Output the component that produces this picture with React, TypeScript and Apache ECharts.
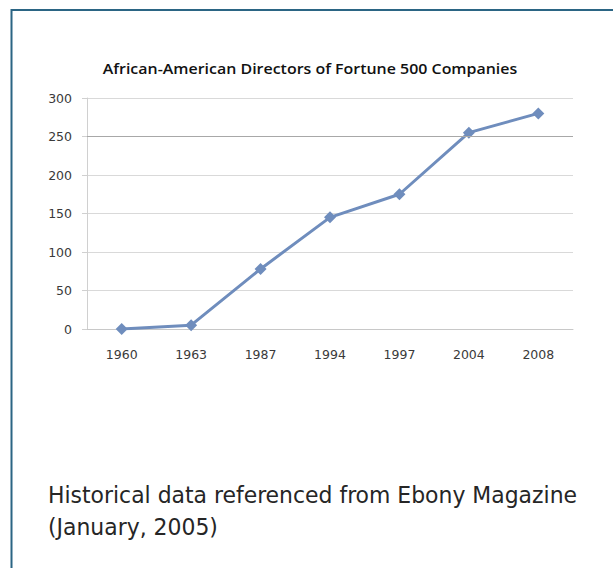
import React, { useEffect, useRef } from "react";
import * as echarts from "echarts";

const years = ["1960", "1963", "1987", "1994", "1997", "2004", "2008"];
const directors = [0, 5, 78, 145, 175, 255, 280];
const yTicks = { min: 0, max: 300, interval: 50 };
const titleText = "African-American Directors of Fortune 500 Companies";
const captionLines = ["Historical data referenced from Ebony Magazine", "(January, 2005)"];

export default function App() {
  const ref = useRef<HTMLDivElement>(null);
  useEffect(() => {
    document.body.style.margin = "0";
    const chart = echarts.init(ref.current!, null, { renderer: "svg" });
    const captionStyle = {
      fontFamily: "DejaVu Sans Condensed",
      fontSize: 23,
      fill: "#262626",
      textVerticalAlign: "middle",
    };
    chart.setOption({
      animation: false,
      backgroundColor: "#ffffff",
      grid: { left: 87, right: 40, top: 98, bottom: 239 },
      xAxis: {
        type: "category",
        data: years,
        boundaryGap: true,
        axisLine: { lineStyle: { color: "#c8c8c8" } },
        axisTick: { show: false },
        axisLabel: { fontFamily: "DejaVu Sans", fontSize: 12.5, color: "#3a3a3a", margin: 19 },
      },
      yAxis: {
        type: "value",
        min: yTicks.min,
        max: yTicks.max,
        interval: yTicks.interval,
        axisLine: { show: true, lineStyle: { color: "#d0d0d0" } },
        axisTick: { show: true, length: 5, lineStyle: { color: "#d0d0d0" } },
        splitLine: { lineStyle: { color: "#d9d9d9" } },
        axisLabel: { fontFamily: "DejaVu Sans", fontSize: 12.5, color: "#3a3a3a", margin: 15 },
      },
      series: [
        {
          type: "line",
          data: directors,
          symbol: "diamond",
          symbolSize: 12,
          lineStyle: { color: "#6f8dbd", width: 3 },
          itemStyle: { color: "#6f8dbd" },
          markLine: {
            silent: true,
            symbol: "none",
            label: { show: false },
            lineStyle: { color: "#a8a8a8", type: "solid", width: 1 },
            data: [{ yAxis: 250 }],
          },
          z: 3,
        },
      ],
      graphic: [
        {
          type: "rect",
          shape: { x: 11.5, y: 10, width: 700, height: 700 },
          style: { fill: "none", stroke: "#2b6584", lineWidth: 2 },
          silent: true,
        },
        {
          type: "text",
          x: 310,
          y: 68,
          scaleX: 1.1,
          style: {
            text: titleText,
            fontFamily: "Open Sans",
            fontWeight: 600,
            fontSize: 14.5,
            fill: "#111111",
            textAlign: "center",
            textVerticalAlign: "middle",
          },
        },
        {
          type: "text",
          x: 48,
          y: 495,
          scaleX: 1.06,
          style: { ...captionStyle, text: captionLines[0] },
        },
        {
          type: "text",
          x: 48,
          y: 527,
          scaleX: 1.06,
          style: { ...captionStyle, text: captionLines[1] },
        },
      ],
    });
    return () => chart.dispose();
  }, []);
  return <div ref={ref} style={{ width: 613, height: 568 }} />;
}
